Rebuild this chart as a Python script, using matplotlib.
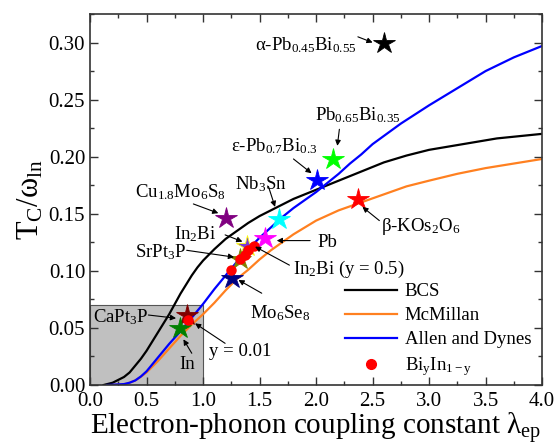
import matplotlib
matplotlib.use("Agg")
import matplotlib.pyplot as plt
from matplotlib.patches import Rectangle
from matplotlib.lines import Line2D
from matplotlib.ticker import MultipleLocator, FormatStrFormatter

plt.rcParams['font.family'] = ['Liberation Serif', 'DejaVu Serif']
plt.rcParams['mathtext.fontset'] = 'custom'
plt.rcParams['mathtext.rm'] = 'Liberation Serif'
plt.rcParams['mathtext.it'] = 'Liberation Serif:italic'
plt.rcParams['mathtext.bf'] = 'Liberation Serif:bold'
plt.rcParams['mathtext.default'] = 'rm'

# ---- curves ----
bcs_lam = [0.12, 0.2, 0.3, 0.35, 0.4, 0.45, 0.5, 0.55, 0.6, 0.65, 0.7, 0.75, 0.8,
           0.85, 0.9, 0.95, 1.0, 1.1, 1.2, 1.3, 1.4, 1.5, 1.6, 1.7, 1.8, 1.9, 2.0, 2.1, 2.2,
           2.4, 2.6, 2.8, 3.0, 3.3, 3.6, 4.0]
bcs_t = [0.0, 0.002, 0.007, 0.011, 0.017, 0.023, 0.030, 0.038, 0.046, 0.054, 0.062, 0.071,
         0.080, 0.088, 0.096, 0.103, 0.109, 0.119, 0.128, 0.135, 0.142, 0.148, 0.153, 0.158,
         0.163, 0.167, 0.171, 0.175, 0.179, 0.187, 0.195, 0.201, 0.206, 0.211, 0.216, 0.220]

mcm_lam = [0.2, 0.3, 0.35, 0.4, 0.45, 0.5, 0.55, 0.6, 0.65, 0.7, 0.75, 0.8, 0.85, 0.9, 0.95,
           1.0, 1.1, 1.2, 1.3, 1.4, 1.5, 1.6, 1.8, 2.0, 2.2, 2.4, 2.6, 2.8, 3.0, 3.25, 3.5,
           3.75, 4.0]
mcm_t = [0.0, 0.0005, 0.002, 0.004, 0.0072, 0.011, 0.016, 0.021, 0.0265, 0.032, 0.0375,
         0.043, 0.048, 0.053, 0.0575, 0.062, 0.072, 0.083, 0.093, 0.101, 0.110, 0.118, 0.132,
         0.144, 0.153, 0.160, 0.167, 0.174, 0.179, 0.185, 0.190, 0.194, 0.198]

ad_lam = [0.15, 0.3, 0.35, 0.4, 0.45, 0.5, 0.55, 0.6, 0.65, 0.7, 0.75, 0.8, 0.85, 0.9, 0.95,
          1.0, 1.1, 1.2, 1.3, 1.4, 1.5, 1.6, 1.7, 1.8, 1.9, 2.0, 2.1, 2.2, 2.3, 2.4, 2.5,
          2.75, 3.0, 3.25, 3.5, 3.75, 4.0]
ad_t = [0.0, 0.0008, 0.002, 0.004, 0.0075, 0.012, 0.018, 0.024, 0.030, 0.036, 0.0415, 0.047,
        0.053, 0.059, 0.065, 0.071, 0.084, 0.096, 0.108, 0.119, 0.129, 0.138, 0.147, 0.155,
        0.162, 0.169, 0.177, 0.185, 0.194, 0.202, 0.211, 0.229, 0.245, 0.260, 0.275, 0.287,
        0.297]

# ---- materials (stars) ----
mat_names = ['α-Pb0.45Bi0.55', 'Pb0.65Bi0.35', 'ε-Pb0.7Bi0.3', 'Nb3Sn', 'Cu1.8Mo6S8', 'Pb',
             'β-KOs2O6', 'In2Bi', 'SrPt3P', 'Mo6Se8', 'CaPt3P', 'In']
mat_lam = [2.60, 2.15, 2.01, 1.67, 1.20, 1.545, 2.375, 1.385, 1.33, 1.26, 0.855, 0.795]
mat_t = [0.300, 0.198, 0.180, 0.145, 0.146, 0.129, 0.163, 0.122, 0.110, 0.094, 0.061, 0.050]
mat_colors = ['#000000', '#00ff00', '#0000ff', '#00ffff', '#800080', '#ff00ff',
              '#ff0000', '#7a3cd6', '#808000', '#000080', '#800000', '#008000']

# ---- Bi_y In_1-y ----
biin_lam = [0.87, 1.245, 1.327, 1.37, 1.40, 1.45]
biin_t = [0.057, 0.101, 0.110, 0.114, 0.118, 0.122]

fig = plt.figure(figsize=(5.56, 4.47), dpi=100)
ax = fig.add_axes([0.162, 0.1387, 0.813, 0.830])

ax.add_patch(Rectangle((0, 0), 1.0, 0.07, facecolor='#c0c0c0', edgecolor='#555555',
                       lw=0.8, zorder=0))

ax.plot(bcs_lam, bcs_t, color='black', lw=1.6, zorder=2, label='BCS')
ax.plot(mcm_lam, mcm_t, color='#ff8020', lw=1.6, zorder=2, label='McMillan')
ax.plot(ad_lam, ad_t, color='#0000ff', lw=1.6, zorder=2, label='Allen and Dynes')

for i, (lx, ty, c) in enumerate(zip(mat_lam, mat_t, mat_colors)):
    ec = '#ffff00' if mat_names[i] == 'In2Bi' else c
    ax.plot(lx, ty, marker='*', ms=16, color=c, mec=ec, mew=0.6, ls='none', zorder=3)

ax.plot(biin_lam, biin_t, 'o', color='#ff0000', ms=6.5, ls='none', zorder=4)

fs = 13.5
def note(text, txy, start, end, ha='left', va='center'):
    ax.text(txy[0], txy[1], text, fontsize=fs, ha=ha, va=va, zorder=5)
    ax.annotate('', xy=end, xytext=start,
                arrowprops=dict(arrowstyle='-|>', color='black', lw=0.8,
                                mutation_scale=8, shrinkA=0, shrinkB=0), zorder=5)

note('α-Pb$_{0.45}$Bi$_{0.55}$', (2.36, 0.298), (2.37, 0.305), (2.50, 0.300), ha='right')
note('Pb$_{0.65}$Bi$_{0.35}$', (1.99, 0.236), (2.206, 0.224), (2.188, 0.2095))
note('ε-Pb$_{0.7}$Bi$_{0.3}$', (1.25, 0.209), (1.80, 0.198), (1.96, 0.1855))
note('Nb$_3$Sn', (1.28, 0.176), (1.578, 0.174), (1.637, 0.156))
note('Cu$_{1.8}$Mo$_6$S$_8$', (0.40, 0.169), (0.914, 0.1586), (1.135, 0.1505))
note('In$_2$Bi', (0.74, 0.132), (1.195, 0.1315), (1.348, 0.1256))
note('SrPt$_3$P', (0.40, 0.116), (0.855, 0.118), (1.274, 0.112))
note('Pb', (2.01, 0.1245), (1.947, 0.1265), (1.652, 0.1265))
note('In$_2$Bi (y = 0.5)', (1.80, 0.101), (1.764, 0.105), (1.46, 0.1212))
note('Mo$_6$Se$_8$', (1.415, 0.063), (1.519, 0.0804), (1.313, 0.092))
note('CaPt$_3$P', (0.03, 0.0595), (0.516, 0.0613), (0.761, 0.0585))
note('In', (0.79, 0.018), (0.90, 0.0278), (0.826, 0.040))
note('y = 0.01', (1.05, 0.029), (1.195, 0.0365), (0.929, 0.054))
note('β-KOs$_2$O$_6$', (2.575, 0.139), (2.56, 0.144), (2.41, 0.156))

ax.set_xlim(0, 4.0)
ax.set_ylim(0, 0.325)
ax.xaxis.set_major_locator(MultipleLocator(0.5))
ax.xaxis.set_minor_locator(MultipleLocator(0.25))
ax.yaxis.set_major_locator(MultipleLocator(0.05))
ax.yaxis.set_minor_locator(MultipleLocator(0.025))
ax.xaxis.set_major_formatter(FormatStrFormatter('%.1f'))
ax.yaxis.set_major_formatter(FormatStrFormatter('%.2f'))
ax.tick_params(which='both', direction='in', top=True, right=True, labelsize=15,
               color='#333333')
ax.tick_params(which='major', length=6, width=1)
ax.tick_params(which='minor', length=3, width=1)
ax.tick_params(axis='x', which='major', pad=5)
for s in ax.spines.values():
    s.set_linewidth(1.2)
    s.set_color('#333333')

ax.set_xlabel('Electron-phonon coupling constant λ$_{ep}$', fontsize=21, labelpad=0)
ax.set_ylabel('T$_C$/ω$_{ln}$', fontsize=22, labelpad=2)

handles = [Line2D([], [], color='black', lw=1.6),
           Line2D([], [], color='#ff8020', lw=1.6),
           Line2D([], [], color='#0000ff', lw=1.6),
           Line2D([], [], color='#ff0000', marker='o', ms=7, ls='none')]
labels = ['BCS', 'McMillan', 'Allen and Dynes', 'Bi$_y$In$_{1-y}$']
ax.legend(handles, labels, loc='lower left', bbox_to_anchor=(0.555, 0.008), frameon=False,
          fontsize=fs, handlelength=2.8, handletextpad=0.4, labelspacing=0.37,
          borderaxespad=0.0, borderpad=0.2)

fig.savefig('out.png', dpi=100)
